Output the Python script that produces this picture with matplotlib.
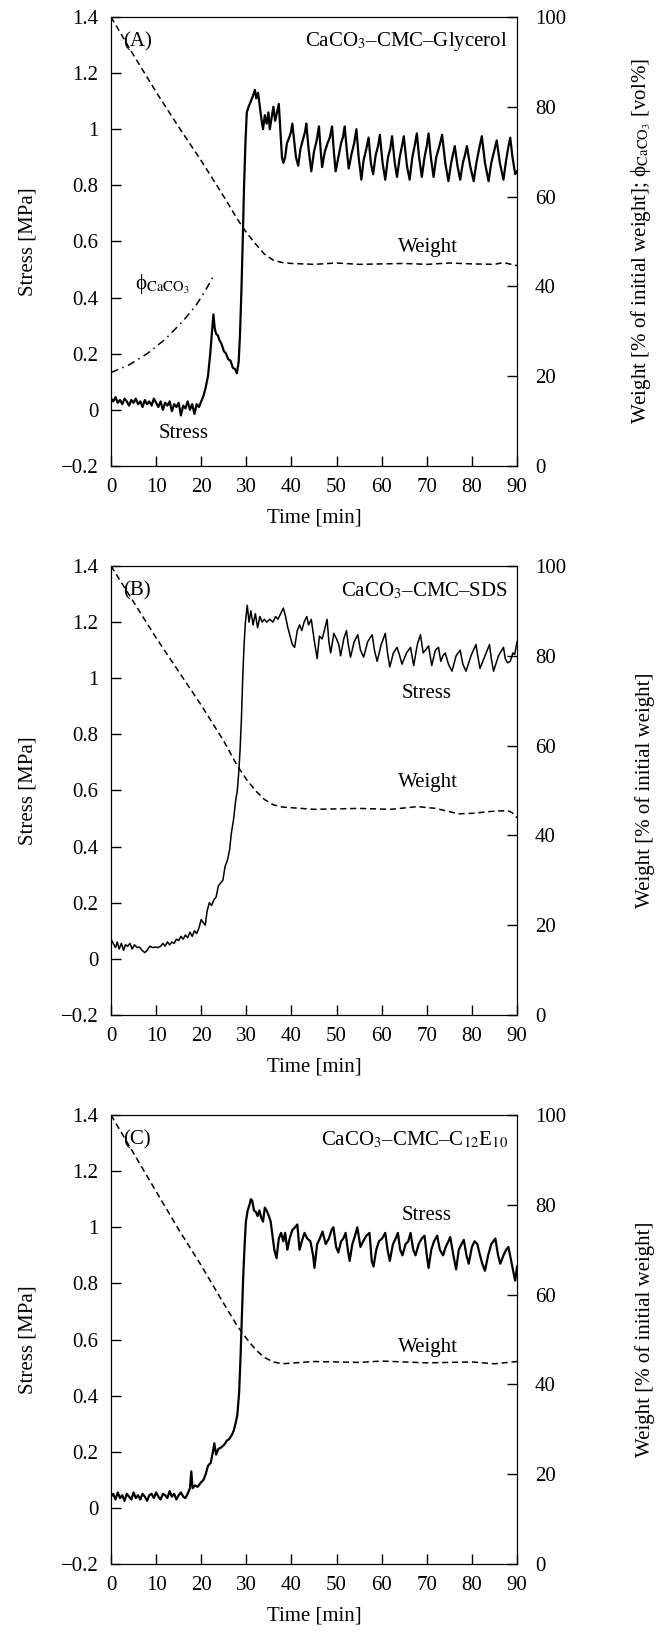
import numpy as np
import matplotlib
matplotlib.use("Agg")
import matplotlib.pyplot as plt

plt.rcParams['font.family'] = ['Liberation Serif', 'DejaVu Serif']
plt.rcParams['mathtext.fontset'] = 'stix'
plt.rcParams['font.size'] = 15

# ======================
# AXES / TICKS
# ======================
time_ticks = [0, 10, 20, 30, 40, 50, 60, 70, 80, 90]
stress_ticks = [-0.2, 0, 0.2, 0.4, 0.6, 0.8, 1.0, 1.2, 1.4]
stress_labels = ["\u22120.2", "0", "0.2", "0.4", "0.6", "0.8", "1", "1.2", "1.4"]
weight_ticks = [0, 20, 40, 60, 80, 100]

PHI = "\u03d5"

# ======================
# PANEL A : CaCO3-CMC-Glycerol
# ======================
a_time = [0, 0.5, 1, 1.5, 2, 2.5, 3, 3.5, 4, 4.5, 5, 5.5, 6, 6.5, 7, 7.5, 8, 8.5, 9, 9.5,
          10, 10.5, 11, 11.5, 12, 12.5, 13, 13.5, 14, 14.5, 15, 15.5, 16, 16.5, 17, 17.5, 18, 18.5, 19, 19.5,
          20.0, 20.5, 21.0, 21.5, 22.0, 22.4, 22.7, 23.0, 23.3, 23.7, 24.0, 24.5, 25.0, 25.5, 26.0, 26.5,
          27.0, 27.5, 27.9, 28.3, 28.6, 28.9, 29.2, 29.5, 29.8, 30.1, 30.5, 31.0, 31.5, 31.9, 32.2, 32.6,
          33.0, 33.4, 33.7, 34.1, 34.5, 34.9, 35.2, 35.6, 36.0, 36.4, 36.8, 37.2, 37.6, 37.9, 38.2, 38.6,
          39.0, 39.5, 39.9, 40.2, 40.6, 41.0, 41.5, 42.0, 42.5, 43.0, 43.3, 43.8, 44.4, 45.0, 45.6, 46.1,
          46.5, 46.8, 47.4, 48.0, 48.5, 49.0, 49.4, 49.8, 50.4, 51.0, 51.4, 51.8, 52.3, 52.7, 53.3, 53.9,
          54.4, 54.9, 55.5, 56.0, 56.6, 57.1, 57.6, 58.1, 58.7, 59.2, 59.6, 60.2, 60.8, 61.4, 61.9, 62.3,
          62.9, 63.4, 64.0, 64.5, 64.9, 65.6, 66.2, 66.8, 67.3, 67.8, 68.3, 68.9, 69.5, 70.0, 70.4, 70.9,
          71.5, 72.1, 72.8, 73.4, 74.1, 74.8, 75.4, 75.8, 76.2, 76.8, 77.4, 78.0, 78.5, 78.9, 79.6, 80.4,
          81.0, 81.6, 82.2, 82.9, 83.7, 84.3, 84.9, 85.5, 86.2, 87.0, 87.5, 88.0, 88.5, 89.0, 89.6, 90.0]
a_stress = [0.04, 0.03, 0.045, 0.025, 0.035, 0.02, 0.04, 0.03, 0.015, 0.035, 0.025, 0.04, 0.02, 0.03, 0.01,
            0.035, 0.02, 0.03, 0.015, 0.04, 0.025, 0.01, 0.03, 0.0, 0.025, 0.015, 0.03, -0.005, 0.02, 0.01,
            0.025, -0.02, 0.015, 0.005, 0.03, 0.0, 0.02, -0.015, 0.02, 0.01,
            0.03, 0.05, 0.08, 0.12, 0.2, 0.28, 0.34, 0.29, 0.27, 0.265, 0.25, 0.235, 0.21, 0.2, 0.18, 0.175,
            0.15, 0.145, 0.13, 0.17, 0.27, 0.42, 0.6, 0.8, 0.95, 1.06, 1.08, 1.1, 1.12, 1.14, 1.11, 1.13,
            1.08, 1.03, 1.0, 1.05, 1.02, 1.06, 1.0, 1.04, 1.08, 1.03, 1.06, 1.09, 0.98, 0.9, 0.88, 0.9,
            0.95, 0.97, 0.99, 1.02, 0.96, 0.9, 0.87, 0.93, 0.96, 0.99, 1.02, 0.93, 0.85, 0.92, 0.96, 1.01,
            0.92, 0.865, 0.92, 0.95, 0.97, 1.01, 0.92, 0.85, 0.9, 0.95, 0.97, 1.01, 0.92, 0.86, 0.91, 0.95,
            1.0, 0.9, 0.82, 0.89, 0.93, 0.97, 0.88, 0.84, 0.91, 0.94, 0.98, 0.88, 0.82, 0.9, 0.93, 0.975,
            0.88, 0.83, 0.9, 0.94, 0.975, 0.87, 0.82, 0.9, 0.94, 0.985, 0.9, 0.83, 0.9, 0.94, 0.985, 0.9,
            0.83, 0.9, 0.94, 0.98, 0.88, 0.815, 0.88, 0.91, 0.94, 0.87, 0.82, 0.88, 0.91, 0.94, 0.87, 0.815,
            0.88, 0.93, 0.975, 0.88, 0.815, 0.88, 0.92, 0.96, 0.88, 0.82, 0.88, 0.93, 0.97, 0.9, 0.84, 0.85]
a_wt_time = [0, 5, 10, 15, 20, 25, 28, 30, 32, 34, 36, 38, 40, 45, 50, 55, 60, 65, 70, 75, 80, 85, 87, 90]
a_weight = [100, 91.5, 83.3, 75.5, 68, 60, 55, 52, 49.5, 47.2, 45.8, 45.3, 45.1, 44.9, 45.2, 44.9,
            45, 45.1, 44.9, 45.2, 45, 44.9, 45.3, 44.6]
a_phi_time = [0, 4, 8, 12, 16, 19, 21, 23]
a_phi = [20.8, 22.5, 25, 28.2, 32.3, 36, 39.2, 42.8]

# ======================
# PANEL B : CaCO3-CMC-SDS
# ======================
b_time = [0.0, 0.5, 1.0, 1.4, 1.8, 2.3, 2.8, 3.2, 3.7, 4.2, 4.7, 5.2, 5.8, 6.3, 6.9, 7.5, 8.0, 8.6, 9.2,
          9.8, 10.4, 11.0, 11.5, 12.0, 12.5, 13.0, 13.5, 14.0, 14.5, 15.0, 15.5, 16.0, 16.5, 17.0, 17.5,
          18.0, 18.5, 19.0, 19.5, 20.0, 20.4, 20.9, 21.3, 21.8, 22.3, 22.8, 23.3, 23.8, 24.3, 24.8, 25.3,
          25.8, 26.3, 26.7, 27.2, 27.6, 28.0, 28.3, 28.6, 28.9, 29.2, 29.5, 29.8, 30.2, 30.6, 31.0, 31.5,
          32.0, 32.5, 33.0, 33.5, 34.0, 34.5, 35.2, 35.9, 36.5, 37.0, 37.6, 38.2, 38.7, 39.2, 39.7, 40.2,
          40.7, 41.3, 41.8, 42.3, 42.8, 43.4, 43.8, 44.4, 45.0, 45.7, 46.2, 46.8, 47.3, 47.9, 48.3, 48.7,
          49.4, 50.0, 50.5, 50.9, 51.6, 52.2, 52.6, 53.1, 53.9, 54.7, 55.3, 56.0, 56.9, 57.9, 58.4, 59.0,
          59.9, 60.8, 61.3, 61.8, 62.6, 63.4, 64.0, 64.5, 65.5, 66.4, 67.1, 67.9, 68.6, 69.2, 69.7, 70.4,
          71.1, 71.9, 72.6, 73.1, 73.6, 74.1, 74.8, 75.6, 76.5, 77.4, 78.0, 78.7, 79.8, 80.9, 81.3, 81.8,
          82.9, 83.9, 84.3, 84.8, 85.9, 87.0, 87.4, 87.9, 88.5, 89.1, 89.5, 90.0]
b_stress = [0.07, 0.055, 0.04, 0.06, 0.035, 0.055, 0.03, 0.05, 0.045, 0.055, 0.035, 0.05, 0.04, 0.042,
            0.03, 0.022, 0.03, 0.045, 0.04, 0.042, 0.04, 0.045, 0.055, 0.045, 0.06, 0.05, 0.06, 0.055, 0.07,
            0.065, 0.08, 0.07, 0.085, 0.075, 0.095, 0.08, 0.1, 0.09, 0.11, 0.14, 0.13, 0.12, 0.17, 0.2, 0.19,
            0.21, 0.22, 0.26, 0.27, 0.28, 0.33, 0.35, 0.39, 0.45, 0.5, 0.56, 0.6, 0.66, 0.74, 0.85, 1.0, 1.12,
            1.2, 1.26, 1.2, 1.24, 1.19, 1.23, 1.18, 1.22, 1.2, 1.21, 1.2, 1.21, 1.2, 1.22, 1.21, 1.23, 1.25,
            1.22, 1.18, 1.15, 1.12, 1.11, 1.17, 1.19, 1.17, 1.2, 1.22, 1.19, 1.21, 1.14, 1.07, 1.15, 1.14,
            1.17, 1.21, 1.13, 1.09, 1.16, 1.14, 1.12, 1.08, 1.14, 1.17, 1.12, 1.075, 1.13, 1.155, 1.1, 1.075,
            1.13, 1.155, 1.1, 1.06, 1.12, 1.16, 1.09, 1.04, 1.09, 1.11, 1.08, 1.05, 1.09, 1.11, 1.045, 1.12,
            1.155, 1.09, 1.1, 1.115, 1.045, 1.1, 1.11, 1.06, 1.08, 1.09, 1.05, 1.025, 1.08, 1.1, 1.05, 1.025,
            1.08, 1.12, 1.08, 1.035, 1.08, 1.12, 1.07, 1.025, 1.08, 1.11, 1.07, 1.055, 1.06, 1.09, 1.085, 1.13]
b_wt_time = [0, 5, 10, 15, 20, 25, 28, 30, 32, 34, 36, 38, 45, 55, 62, 68, 72, 77, 80, 85, 88, 89, 90]
b_weight = [100, 92, 84, 76.5, 69, 61, 55.5, 52.5, 50, 48, 46.8, 46.3, 45.8, 46, 45.8, 46.4, 46,
            44.8, 44.9, 45.4, 45.5, 45, 43.9]

# ======================
# PANEL C : CaCO3-CMC-C12E10
# ======================
c_time = [0, 0.5, 1, 1.5, 2, 2.5, 3, 3.5, 4, 4.5, 5, 5.5, 6, 6.5, 7, 7.5, 8, 8.5, 9, 9.5, 10, 10.5,
          11, 11.5, 12, 12.5, 13, 13.5, 14, 14.5, 15, 15.5, 16, 16.5,
          17.0, 17.5, 17.8, 18.1, 18.6, 19.2, 19.9, 20.5, 21.0, 21.5, 22.1, 22.6, 22.9, 23.3, 23.8, 24.4,
          25.1, 25.7, 26.2, 26.8, 27.2, 27.6, 28.0, 28.4, 28.7, 29.0, 29.3, 29.6, 29.9, 30.3, 30.7, 31.0,
          31.3, 31.7, 32.1, 32.5, 32.9, 33.3, 33.7, 34.1, 34.5, 35.0, 35.4, 35.8, 36.2, 36.7, 37.2, 37.7,
          38.2, 38.6, 39.1, 39.6, 40.2, 40.8, 41.3, 41.8, 42.3, 42.9, 43.5, 44.2, 44.8, 45.1, 45.7, 46.3,
          46.9, 47.6, 48.3, 48.9, 49.3, 49.9, 50.4, 51.0, 51.5, 52.0, 52.5, 52.9, 53.5, 54.1, 54.6, 55.3,
          55.9, 56.6, 57.3, 57.8, 58.2, 58.8, 59.4, 60.1, 60.8, 61.3, 61.8, 62.5, 63.1, 63.6, 64.1, 64.6,
          65.3, 65.9, 66.4, 67.0, 67.5, 68.2, 68.9, 69.5, 70.0, 70.4, 71.0, 71.6, 72.3, 72.9, 73.6, 74.2,
          74.8, 75.2, 75.9, 76.5, 77.1, 77.7, 78.2, 78.8, 79.3, 80.0, 80.6, 81.2, 81.8, 82.3, 82.9, 83.6,
          84.3, 85.2, 85.8, 86.3, 87.0, 87.6, 88.1, 88.7, 89.2, 89.6, 90.0]
c_stress = [0.04, 0.05, 0.03, 0.055, 0.035, 0.045, 0.025, 0.05, 0.04, 0.03, 0.055, 0.035, 0.045, 0.03,
            0.05, 0.04, 0.025, 0.045, 0.05, 0.035, 0.055, 0.04, 0.03, 0.05, 0.045, 0.035, 0.06, 0.04, 0.05,
            0.03, 0.045, 0.055, 0.04, 0.035,
            0.05, 0.07, 0.13, 0.07, 0.08, 0.075, 0.09, 0.1, 0.12, 0.15, 0.16, 0.2, 0.23, 0.19, 0.21, 0.215,
            0.225, 0.24, 0.245, 0.26, 0.275, 0.3, 0.33, 0.41, 0.53, 0.68, 0.82, 0.93, 1.02, 1.06, 1.08, 1.1,
            1.095, 1.06, 1.055, 1.04, 1.06, 1.035, 1.02, 1.07, 1.06, 1.04, 1.02, 0.97, 0.92, 0.89, 0.96,
            0.98, 0.95, 0.98, 0.92, 0.96, 0.99, 1.0, 1.01, 0.92, 0.95, 0.98, 0.96, 0.95, 0.9, 0.855, 0.94,
            0.96, 0.985, 0.94, 0.96, 0.99, 1.0, 0.93, 0.91, 0.95, 0.96, 0.98, 0.92, 0.88, 0.94, 0.97, 1.0,
            0.93, 0.95, 0.97, 0.98, 0.88, 0.86, 0.92, 0.95, 0.96, 0.98, 0.92, 0.88, 0.94, 0.96, 0.98, 0.92,
            0.9, 0.94, 0.95, 0.98, 0.92, 0.9, 0.94, 0.96, 0.97, 0.9, 0.855, 0.92, 0.95, 0.97, 0.92, 0.9,
            0.93, 0.95, 0.965, 0.9, 0.85, 0.92, 0.94, 0.955, 0.9, 0.87, 0.93, 0.95, 0.94, 0.9, 0.87, 0.845,
            0.9, 0.94, 0.96, 0.9, 0.87, 0.9, 0.92, 0.93, 0.88, 0.84, 0.81, 0.86]
c_wt_time = [0, 5, 10, 15, 20, 25, 28, 30, 32, 34, 36, 38, 45, 55, 60, 70, 80, 85, 90]
c_weight = [100, 91.5, 83, 74.5, 66.5, 58, 53, 50.3, 47.8, 46, 45, 44.6, 45.1, 44.9, 45.2, 44.8,
            45, 44.6, 45.1]

# ======================
# FIGURE
# ======================
fig = plt.figure(figsize=(6.63, 16.32), dpi=100)

panels = [
    (0.7145, "(A)", r"CaCO$_3$–CMC–Glycerol", a_time, a_stress, a_wt_time, a_weight, 1.6,
     "Weight [% of initial weight]; " + PHI + r"$_{\mathrm{CaCO_3}}$ [vol%]", 1.275),
    (0.3781, "(B)", r"CaCO$_3$–CMC–SDS", b_time, b_stress, b_wt_time, b_weight, 1.1,
     "Weight [% of initial weight]", 1.29),
    (0.04167, "(C)", r"CaCO$_3$–CMC–C$_{12}$E$_{10}$", c_time, c_stress, c_wt_time, c_weight, 1.6,
     "Weight [% of initial weight]", 1.29),
]

axes = []
for bottom, tag, title, t, s, wt_t, wt, lw, rlabel, rx in panels:
    ax = fig.add_axes([0.1674, bottom, 0.6124, 0.2751])
    ax2 = ax.twinx()

    ax2.plot(wt_t, wt, color="black", lw=1.1, linestyle=(0, (4, 2.5)), zorder=2)
    ax.plot(t, s, color="black", lw=lw, zorder=3)
    ax.set_zorder(ax2.get_zorder() + 1)
    ax.patch.set_visible(False)

    ax.set_xlim(0, 90)
    ax.set_ylim(-0.2, 1.4)
    ax2.set_ylim(0, 100)
    ax.set_xticks(time_ticks)
    ax.set_yticks(stress_ticks)
    ax.set_yticklabels(stress_labels)
    ax2.set_yticks(weight_ticks)

    ax.tick_params(axis="x", direction="in", length=7, width=1, pad=9, top=False)
    ax.tick_params(axis="y", direction="in", length=7, width=1, pad=9, right=False)
    ax2.tick_params(axis="y", direction="in", length=7, width=1, pad=13)

    ax.set_xlabel("Time [min]", labelpad=8)
    ax.set_ylabel("Stress [MPa]")
    ax.yaxis.set_label_coords(-0.18, 0.5)
    ax2.set_ylabel(rlabel)
    ax2.yaxis.set_label_coords(rx, 0.5)

    ax.text(0.03, 0.944, tag, transform=ax.transAxes, ha="left", va="center")
    ax.text(0.978, 0.945, title, transform=ax.transAxes, ha="right", va="center")
    axes.append((ax, ax2))

# panel A extras
axA, axA2 = axes[0]
axA2.plot(a_phi_time, a_phi, color="black", lw=1.1, linestyle=(0, (5, 3, 1, 3)))
axA.text(0.78, 0.486, "Weight", transform=axA.transAxes, ha="center", va="center")
axA.text(0.18, 0.073, "Stress", transform=axA.transAxes, ha="center", va="center")
axA.text(0.06, 0.405, PHI + r"$_{\mathrm{CaCO_3}}$", transform=axA.transAxes, ha="left", va="center")

axB, axB2 = axes[1]
axB.text(0.778, 0.717, "Stress", transform=axB.transAxes, ha="center", va="center")
axB.text(0.78, 0.517, "Weight", transform=axB.transAxes, ha="center", va="center")

axC, axC2 = axes[2]
axC.text(0.778, 0.777, "Stress", transform=axC.transAxes, ha="center", va="center")
axC.text(0.78, 0.483, "Weight", transform=axC.transAxes, ha="center", va="center")

fig.savefig("out.png", dpi=100)
